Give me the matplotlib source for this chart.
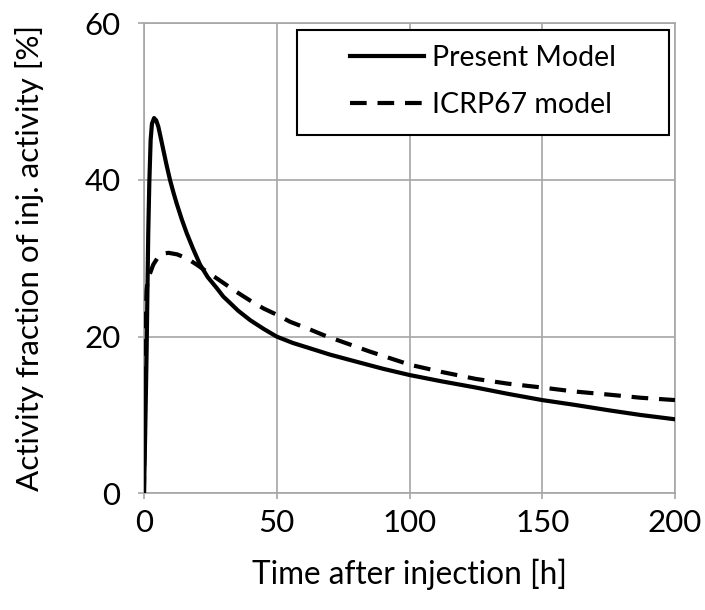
import matplotlib
matplotlib.use("Agg")
import matplotlib.pyplot as plt
from matplotlib.patches import Rectangle

plt.rcParams['font.family'] = ['Lato', 'DejaVu Sans']

# Present Model (time in h, activity %)
present_t = [0, 0.3, 0.7, 1.0, 1.25, 1.6, 2.0, 2.5, 3.0, 3.8, 4.6, 5.4, 6.3, 7.3, 8.5, 9.8, 11.0, 12.3,
             14.2, 16.1, 18.5, 21.1, 24.0, 27.4, 29.9, 31.8, 35.5, 40.0, 45.0, 50.0, 56.0, 62.6, 70.1,
             80.0, 90.0, 100.0, 112.0, 125.0, 137.0, 150.0, 162.0, 175.0, 187.0, 200.0]
present_y = [0, 5.0, 12.5, 18.5, 24.7, 33.2, 39.6, 45.1, 47.2, 47.9, 47.6, 46.8, 45.4, 43.8, 41.9, 40.0,
             38.5, 37.0, 35.0, 33.2, 31.2, 29.2, 27.6, 26.2, 25.1, 24.5, 23.3, 22.1, 21.0, 20.0, 19.2, 18.5,
             17.7, 16.8, 15.9, 15.1, 14.3, 13.5, 12.7, 11.9, 11.3, 10.6, 10.0, 9.45]

# ICRP67 model
icrp_t = [0, 0.3, 0.6, 1.0, 1.5, 2.3, 3.5, 5.4, 7.2, 9.2, 12.5, 16.1, 19.8, 23.6, 28.0, 34.9, 40.0, 45.0,
          50.0, 55.0, 62.6, 67.6, 75.0, 85.0, 100.3, 112.0, 125.0, 137.0, 150.0, 162.0, 175.0, 187.0, 200.0]
icrp_y = [0, 14.0, 22.0, 26.0, 27.4, 28.1, 29.2, 30.2, 30.6, 30.7, 30.5, 30.0, 29.2, 28.3, 27.3, 25.7, 24.6, 23.6,
          22.8, 21.9, 20.9, 20.2, 19.3, 18.1, 16.4, 15.5, 14.6, 14.0, 13.5, 13.0, 12.6, 12.2, 11.9]

x_ticks = [0, 50, 100, 150, 200]
y_ticks = [0, 20, 40, 60]

W, H = 705, 610
fig = plt.figure(figsize=(W/100, H/100), dpi=100)
ax = fig.add_axes([144/W, 1 - 493.3/H, (675 - 144)/W, (493.3 - 23.3)/H])

dash = (0, (4.0, 2.6))
ax.plot(present_t, present_y, color='black', lw=3, solid_joinstyle='round', label='Present Model', zorder=3)
ax.plot(icrp_t, icrp_y, color='black', lw=3, linestyle=dash, label='ICRP67 model', zorder=3)

ax.set_xlim(0, 200)
ax.set_ylim(0, 60)
ax.set_xticks(x_ticks)
ax.set_yticks(y_ticks)
ax.grid(True, color='#a6a6a6', lw=1.2)
ax.set_axisbelow(True)
for s in ax.spines.values():
    s.set_color('#a6a6a6')
    s.set_linewidth(1.2)
ax.tick_params(axis='both', colors='#a6a6a6', length=4, width=1.2, labelsize=22.5, labelcolor='black')
ax.tick_params(axis='x', pad=7)
ax.tick_params(axis='y', pad=13)

ax.set_xlabel('Time after injection [h]', fontsize=22.7, labelpad=16)
ax.set_ylabel('Activity fraction of inj. activity [%]', fontsize=22.6, labelpad=29)

# legend box (frame drawn separately to match its wide horizontal padding)
fig.patches.append(Rectangle((297.3/W, 1 - 135/H), (669.3 - 297.3)/W, (135 - 30)/H,
                             transform=fig.transFigure, facecolor='white', edgecolor='black',
                             lw=1.5, zorder=5))
leg = fig.legend(loc='center', bbox_to_anchor=(((297.3 + 669.3) / 2) / W, 1 - 81.5/H),
                 fontsize=20.5, frameon=False, handlelength=2.6, handletextpad=0.28,
                 labelspacing=0.77, borderpad=0)
leg.set_zorder(6)

fig.savefig('out.png', dpi=100)
